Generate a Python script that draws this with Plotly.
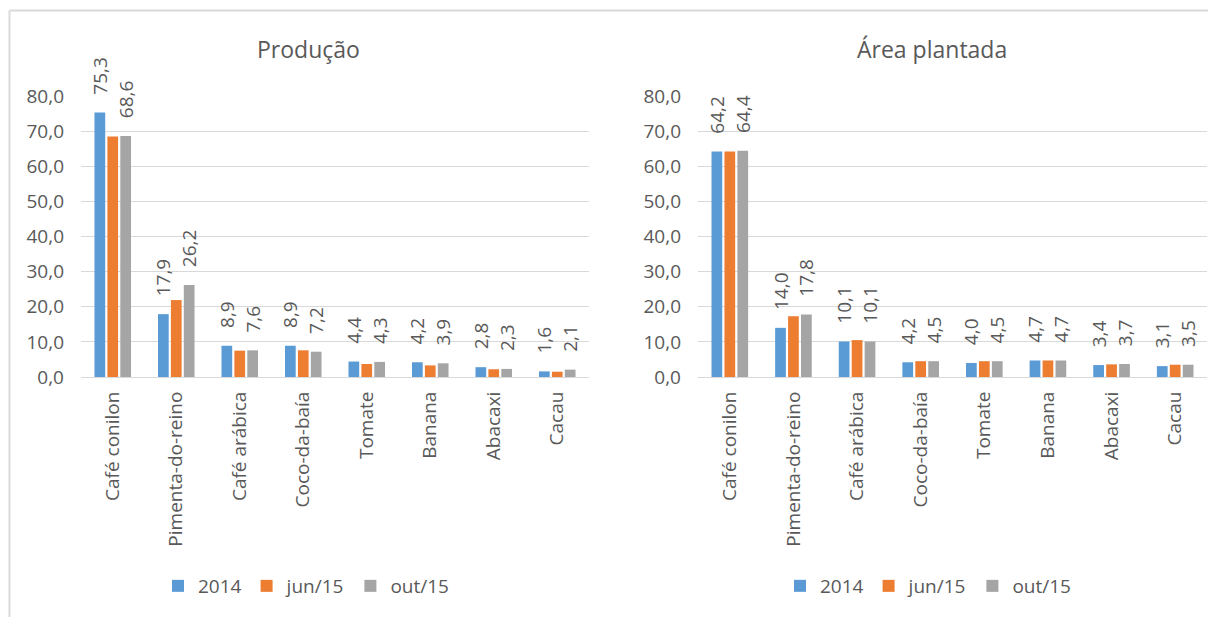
import plotly.graph_objects as go

# Culturas e séries
categorias = ["Café conilon", "Pimenta-do-reino", "Café arábica", "Coco-da-baía",
              "Tomate", "Banana", "Abacaxi", "Cacau"]
series = ["2014", "jun/15", "out/15"]

producao_2014 = [75.3, 17.9, 8.9, 8.9, 4.4, 4.2, 2.8, 1.6]
producao_jun15 = [68.5, 21.9, 7.5, 7.6, 3.7, 3.3, 2.2, 1.5]
producao_out15 = [68.6, 26.2, 7.6, 7.2, 4.3, 3.9, 2.3, 2.1]

area_2014 = [64.2, 14.0, 10.1, 4.2, 4.0, 4.7, 3.4, 3.1]
area_jun15 = [64.2, 17.3, 10.5, 4.5, 4.5, 4.7, 3.6, 3.5]
area_out15 = [64.4, 17.8, 10.1, 4.5, 4.5, 4.7, 3.7, 3.5]

cores = ["#5B9BD5", "#ED7D31", "#A5A5A5"]
mostrar_rotulo = [True, False, True]

FONTE = "Open Sans"
TEXTO = "#595959"
GRADE = "#D9D9D9"
W, H = 1208, 617
TAM = 19

fig = go.Figure()

paineis = [
    ("x", "y", "legend", [producao_2014, producao_jun15, producao_out15]),
    ("x2", "y2", "legend2", [area_2014, area_jun15, area_out15]),
]

# rótulos de valor afastados do topo da barra por espaços não separáveis
ESPACO = "\u00a0\u00a0\u00a0"

for xa, ya, leg, valores in paineis:
    for nome, cor, vals, rot in zip(series, cores, valores, mostrar_rotulo):
        fig.add_trace(go.Bar(
            x=categorias, y=vals, name=nome,
            marker=dict(color=cor, line=dict(width=0)),
            texttemplate=(ESPACO + "%{y:.1f}") if rot else None,
            textposition="outside" if rot else "none",
            textangle=-90,
            constraintext="none",
            cliponaxis=False,
            textfont=dict(family=FONTE, size=TAM, color=TEXTO),
            xaxis=xa, yaxis=ya, legend=leg,
        ))

eixo_x = dict(
    type="category", tickangle=-90, showgrid=False, automargin=False,
    showline=True, linecolor=GRADE, linewidth=1, ticks="",
    tickfont=dict(family=FONTE, size=TAM, color=TEXTO),
    ticklabelstandoff=6, fixedrange=True,
)
eixo_y = dict(
    range=[0, 80], dtick=10, tickformat=".1f", showgrid=True, automargin=False,
    gridcolor=GRADE, gridwidth=1, zeroline=False, showline=False, ticks="",
    tickfont=dict(family=FONTE, size=TAM, color=TEXTO),
    ticklabelstandoff=16, fixedrange=True,
)

y_dom = [(H - 377) / H, (H - 96) / H]

legenda = dict(
    orientation="h", yanchor="middle", xanchor="center", y=(H - 586) / H,
    font=dict(family=FONTE, size=TAM, color=TEXTO),
    bgcolor="rgba(0,0,0,0)", itemclick=False, itemdoubleclick=False,
    traceorder="normal",
)

fig.update_layout(
    width=W, height=H, autosize=False,
    margin=dict(l=0, r=0, t=0, b=0, pad=0, autoexpand=False),
    paper_bgcolor="white", plot_bgcolor="white",
    separators=",.",
    barmode="group", bargap=0.39, bargroupgap=0.17,
    showlegend=True,
    xaxis=dict(eixo_x, domain=[81 / W, 589 / W], anchor="y"),
    yaxis=dict(eixo_y, domain=y_dom, anchor="x"),
    xaxis2=dict(eixo_x, domain=[698 / W, 1207 / W], anchor="y2"),
    yaxis2=dict(eixo_y, domain=y_dom, anchor="x2"),
    legend=dict(legenda, x=306 / W),
    legend2=dict(legenda, x=928 / W),
    annotations=[
        dict(text="Produção", x=308 / W, y=(H - 49) / H, xref="paper", yref="paper",
             showarrow=False, xanchor="center", yanchor="middle",
             font=dict(family=FONTE, size=23, color=TEXTO)),
        dict(text="Área plantada", x=932 / W, y=(H - 49) / H, xref="paper", yref="paper",
             showarrow=False, xanchor="center", yanchor="middle",
             font=dict(family=FONTE, size=23, color=TEXTO)),
    ],
    shapes=[
        dict(type="line", xref="paper", yref="paper", x0=9.5 / W, x1=1, y0=(H - 10.5) / H,
             y1=(H - 10.5) / H, line=dict(color=GRADE, width=2)),
        dict(type="line", xref="paper", yref="paper", x0=9.5 / W, x1=9.5 / W, y0=0,
             y1=(H - 10.5) / H, line=dict(color=GRADE, width=2)),
    ],
)

fig.write_html("out.html")
